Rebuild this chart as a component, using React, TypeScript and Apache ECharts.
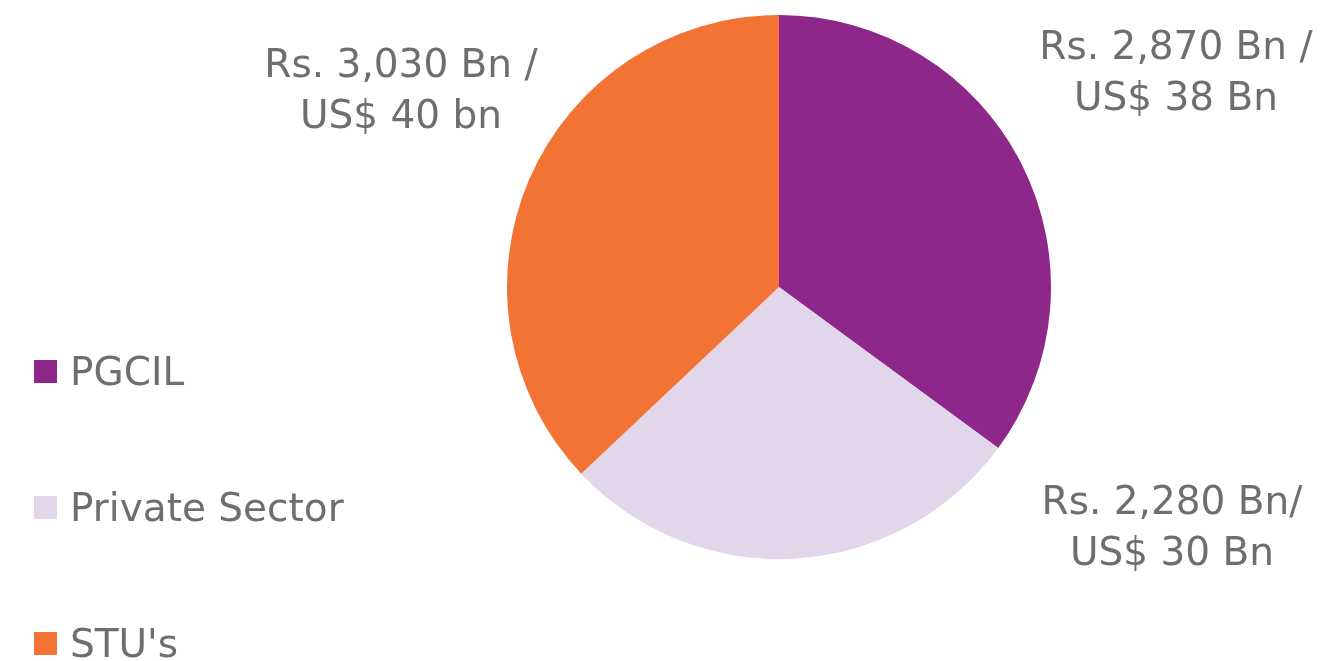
import React, { useEffect, useRef } from "react";
import * as echarts from "echarts";

const categories = ["PGCIL", "Private Sector", "STU's"];
const valuesBn = [2870, 2280, 3030];
const labelTexts = [
  "Rs. 2,870 Bn /\nUS$ 38 Bn",
  "Rs. 2,280 Bn/\nUS$ 30 Bn",
  "Rs. 3,030 Bn /\nUS$ 40 bn",
];
const colors = ["#8E278A", "#E2D6EA", "#F37335"];

const FONT = "DejaVu Sans";
const TEXT = "#6D6E71";

export default function App() {
  const ref = useRef<HTMLDivElement>(null);
  useEffect(() => {
    if (!ref.current) return;
    const chart = echarts.init(ref.current, null, { renderer: "svg" });
    const labelPos = [
      [1176, 71],
      [1172, 526],
      [401, 89],
    ];
    chart.setOption({
      animation: false,
      color: colors,
      legend: {
        orient: "vertical",
        left: 34,
        top: 352,
        height: 400,
        padding: 0,
        itemWidth: 23,
        itemHeight: 23,
        itemGap: 97,
        icon: "rect",
        data: categories,
        textStyle: {
          fontFamily: FONT,
          fontSize: 39,
          color: TEXT,
          padding: [0, 0, 0, 8],
        },
      },
      series: [
        {
          type: "pie",
          center: [779, 287],
          radius: 272,
          startAngle: 90,
          clockwise: true,
          silent: true,
          data: categories.map((c, i) => ({
            name: c,
            value: valuesBn[i],
            label: { formatter: labelTexts[i] },
          })),
          label: {
            show: true,
            position: "outside",
            fontFamily: FONT,
            fontSize: 39,
            lineHeight: 51,
            color: TEXT,
            align: "center",
            overflow: "none",
          },
          labelLine: { show: false },
          labelLayout: (p: any) => ({
            x: labelPos[p.dataIndex][0],
            y: labelPos[p.dataIndex][1],
            align: "center",
            verticalAlign: "middle",
          }),
          itemStyle: { borderWidth: 0 },
        },
      ],
    });
    return () => chart.dispose();
  }, []);
  return (
    <div
      ref={ref}
      style={{ position: "fixed", left: 0, top: 0, width: 1323, height: 661 }}
    />
  );
}
